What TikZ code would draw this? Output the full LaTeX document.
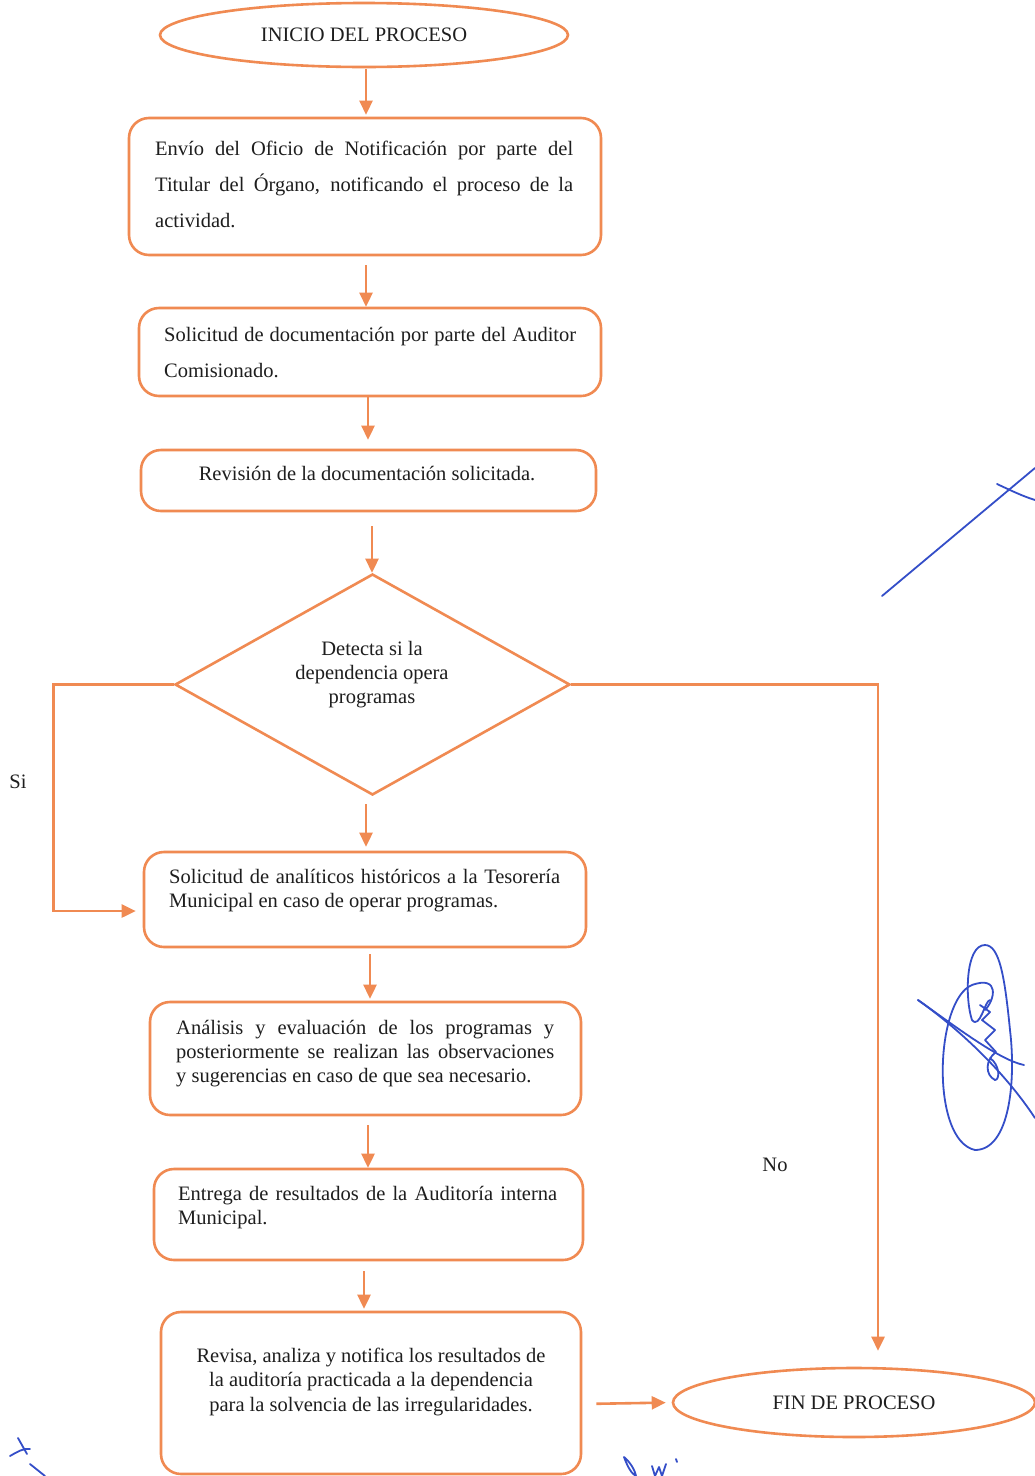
\documentclass[tikz,border=0pt]{standalone}
\usepackage{fontspec}
\setmainfont{Liberation Serif}
\usetikzlibrary{shapes.geometric,arrows.meta}
\definecolor{org}{RGB}{240,138,82}
\definecolor{ink}{RGB}{30,30,30}
\definecolor{sig}{RGB}{52,78,200}
\newcommand{\jl}[2]{\makebox[#1pt][s]{#2}}
\begin{document}
\begin{tikzpicture}[x=1pt,y=-1pt,
  line/.style={draw=org,line width=2.6pt},
  arr/.style={line,-{Triangle[length=14pt,width=13pt]}},
  stepbox/.style={line,rounded corners=20pt,inner sep=0pt},
  oval/.style={line,ellipse,inner sep=0pt,text=ink,font=\fontsize{20.5}{24}\selectfont},
  txt/.style={inner sep=0pt,text=ink,align=left,font=\fontsize{20.5}{24}\selectfont},
  txtwide/.style={txt,font=\fontsize{20.5}{36}\selectfont},
  lbl/.style={inner sep=0pt,text=ink,font=\fontsize{20.5}{24}\selectfont},
  sign/.style={draw=sig,line width=1.8pt,line cap=round,line join=round}]
\useasboundingbox[fill=white] (0,0) rectangle (1035,1476);

% shapes
\node[oval,minimum width=408pt,minimum height=64pt] (ini) at (364,35) {INICIO DEL PROCESO};
\node[stepbox,minimum width=472pt,minimum height=137pt] (b1) at (365,186.5) {};
\node[stepbox,minimum width=462pt,minimum height=88pt] (b2) at (370,352) {};
\node[stepbox,minimum width=455pt,minimum height=61pt] (b3) at (368.5,480.5) {};
\node[line,diamond,minimum width=395pt,minimum height=221pt,inner sep=0pt] (dec) at (372.5,684.5) {};
\node[stepbox,minimum width=442pt,minimum height=95pt] (b4) at (365,899.5) {};
\node[stepbox,minimum width=431pt,minimum height=113pt] (b5) at (365.5,1058.5) {};
\node[stepbox,minimum width=429pt,minimum height=91pt] (b6) at (368.5,1214.5) {};
\node[stepbox,minimum width=420pt,minimum height=162pt] (b7) at (371,1393) {};
\node[oval,minimum width=362pt,minimum height=69pt] (fin) at (854,1402.5) {FIN DE PROCESO};

% texts
\node[txtwide,anchor=west] (t1) at (155,184) {\jl{418}{Envío del Oficio de Notificación por parte del}\\\jl{418}{Titular del Órgano, notificando el proceso de la}\\actividad.};
\node[txtwide,anchor=west] (t2) at (164,353) {\jl{412}{Solicitud de documentación por parte del Auditor}\\Comisionado.};
\node[lbl] (t3) at (367,474) {Revisión de la documentación solicitada.};
\node[txt,align=center] (td) at (372,675) {Detecta si la\\dependencia opera\\programas};
\node[txt,anchor=west] (t4) at (169,891) {\jl{391}{Solicitud de analíticos históricos a la Tesorería}\\Municipal en caso de operar programas.};
\node[txt,anchor=west] (t5) at (176,1054) {\jl{378}{Análisis y evaluación de los programas y}\\\jl{378}{posteriormente se realizan las observaciones}\\y sugerencias en caso de que sea necesario.};
\node[txt,anchor=west] (t6) at (178,1208) {\jl{379}{Entrega de resultados de la Auditoría interna}\\Municipal.};
\node[txt,align=center,font=\fontsize{20.5}{24.5}\selectfont] (t7) at (371,1381.5) {Revisa, analiza y notifica los resultados de\\la auditoría practicada a la dependencia\\para la solvencia de las irregularidades.};
\node[lbl] (si) at (18,782) {Si};
\node[lbl] (no) at (775,1165) {No};

% connectors
\draw[arr,shorten <=1pt,shorten >=2pt] ([xshift=2pt]ini.south) -- ([xshift=2pt]ini.south |- b1.north);
\draw[arr,shorten <=9pt] ([xshift=1pt]b1.south) -- ([xshift=1pt]b1.south |- b2.north);
\draw[arr,shorten >=9pt] ([xshift=-2pt]b2.south) -- ([xshift=-2pt]b2.south |- b3.north);
\draw[arr,shorten <=14pt] ([xshift=3.5pt]b3.south) -- ([xshift=3.5pt]b3.south |- dec.north);
\draw[arr,shorten <=8pt,shorten >=4pt] ([xshift=1pt]b4.north |- dec.south) -- ([xshift=1pt]b4.north);
\draw[arr,shorten <=6pt,shorten >=2pt] ([xshift=5pt]b4.south) -- ([xshift=5pt]b4.south |- b5.north);
\draw[arr,shorten <=9pt] ([xshift=2.5pt]b5.south) -- ([xshift=2.5pt]b5.south |- b6.north);
\draw[arr,shorten <=10pt,shorten >=2pt] ([xshift=-4.5pt]b6.south) -- ([xshift=-4.5pt]b6.south |- b7.north);
\draw[arr,shorten <=14pt,shorten >=6pt] ([yshift=-11pt]b7.east) -- (fin.west);
\draw[arr,shorten >=7pt] (dec.west) -- ++(-120,0) |- ([yshift=-11.5pt]b4.west);
\draw[arr] (dec.east) -| ([xshift=24pt,yshift=16pt]fin.north);

% handwritten marks (scan)
\draw[sign] (882,596) -- (1035,468);
\draw[sign] (997,484) .. controls (1010,490) and (1022,496) .. (1035,500);
\draw[sign] (975,1150) .. controls (930,1140) and (935,1000) .. (972,985)
  .. controls (1000,975) and (995,1000) .. (985,1010);
\draw[sign] (975,1150) .. controls (1010,1150) and (1016,1080) .. (1010,1030)
  .. controls (1005,980) and (1000,945) .. (985,945)
  .. controls (965,945) and (965,1000) .. (972,1020)
  .. controls (980,1030) and (985,1000) .. (990,1000);
\draw[sign] (918,1000) .. controls (960,1030) and (1000,1060) .. (1024,1065);
\draw[sign] (918,1000) .. controls (925,1005) and (990,1050) .. (1035,1118);
\draw[sign] (980,1005) -- (990,1012) -- (982,1020) -- (995,1030) -- (985,1040) -- (996,1052)
  .. controls (985,1060) and (985,1075) .. (995,1080) .. controls (1000,1080) and (1000,1065) .. (990,1058);
\draw[sign] (18,1438) -- (27,1454) (10,1456) .. controls (17,1452) and (23,1448) .. (30,1449) (30,1464) -- (45,1476);
\draw[sign] (624,1457) .. controls (628,1468) and (632,1474) .. (636,1476) (624,1457) .. controls (630,1462) and (635,1470) .. (636,1476);
\draw[sign] (652,1466) -- (655,1476) -- (659,1467) -- (662,1476) -- (666,1464) (676,1459) -- (677,1462);
\end{tikzpicture}
\end{document}
